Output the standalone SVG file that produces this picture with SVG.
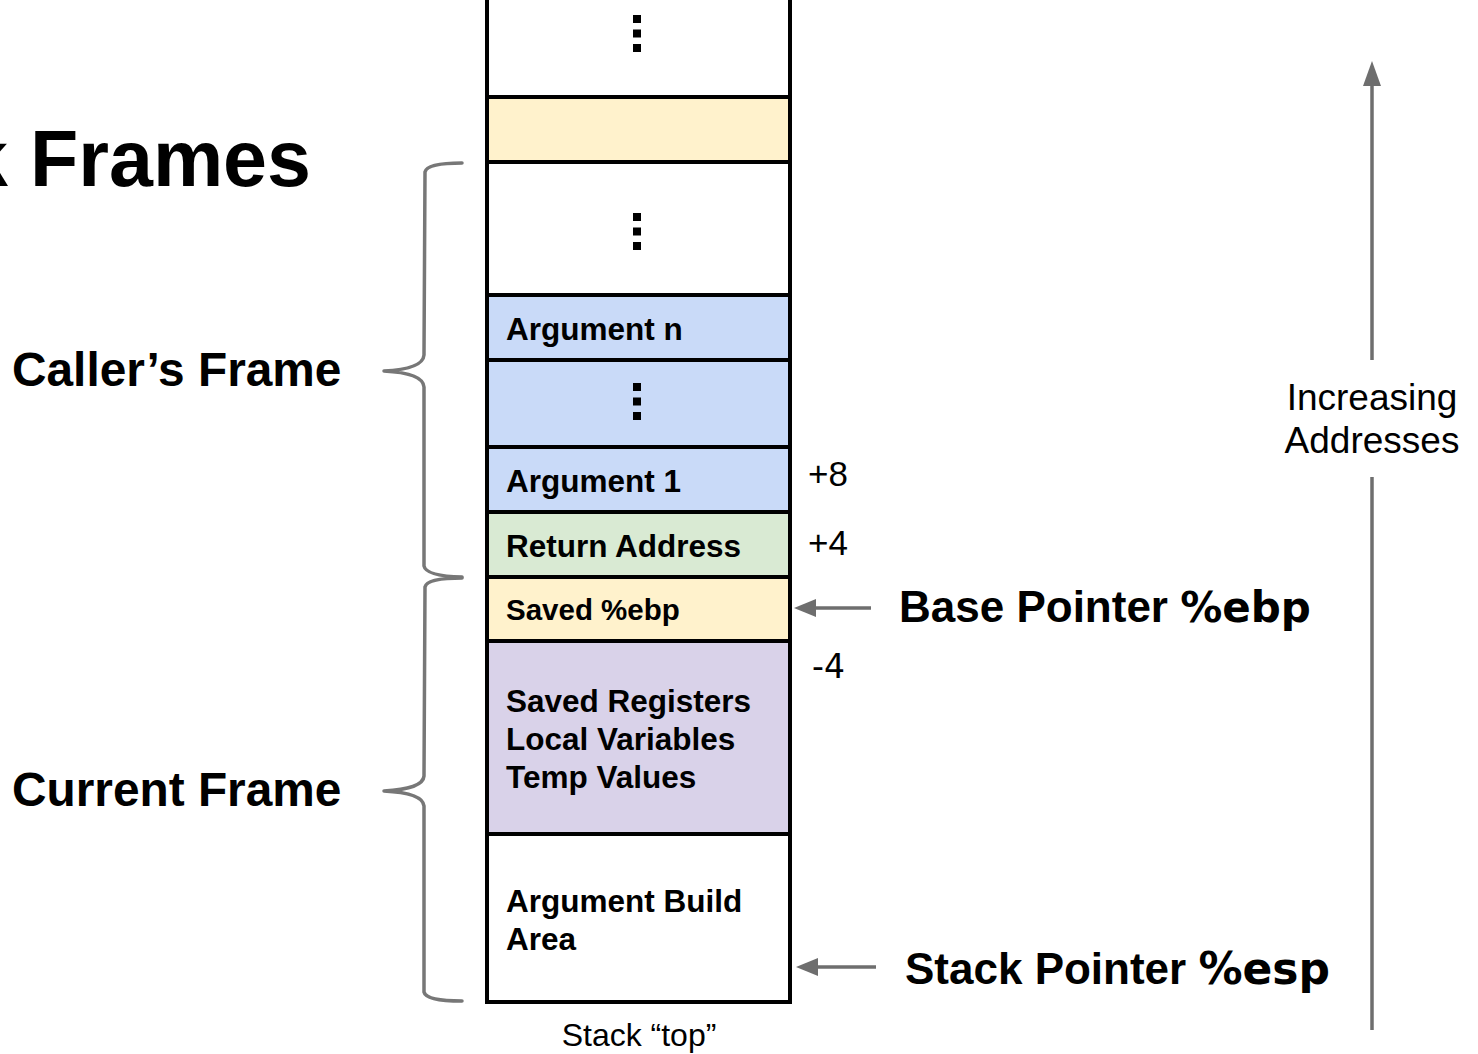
<svg xmlns="http://www.w3.org/2000/svg" width="1478" height="1054" viewBox="0 0 1478 1054">
<style>
.cell{stroke:#000;stroke-width:4}
.lbl{font-family:"Liberation Sans",Arial,sans-serif;font-weight:bold;font-size:31.5px;fill:#000}
.big{font-family:"Liberation Sans",Arial,sans-serif;font-weight:bold;font-size:47.8px;fill:#000}
.ptr{font-family:"Liberation Sans",Arial,sans-serif;font-weight:bold;font-size:44px;fill:#000}
.reg{font-family:"DejaVu Sans",sans-serif;font-weight:bold}
.off{font-family:"Liberation Sans",Arial,sans-serif;font-size:35px;fill:#000}
.note{font-family:"Liberation Sans",Arial,sans-serif;font-size:32px;fill:#000}
.brace{fill:none;stroke:#777;stroke-width:3.5;stroke-linecap:round;stroke-linejoin:round}
.conn{stroke:#6e6e6e;stroke-width:3.5;fill:none}
.dot{fill:#000}
</style>
<defs>
<g id="dots3">
<rect class="dot" x="-4" y="-4" width="8" height="8"/>
<rect class="dot" x="-4" y="10.5" width="8" height="8"/>
<rect class="dot" x="-4" y="25" width="8" height="8"/>
</g>
</defs>
<rect width="1478" height="1054" fill="#fff"/>

<g id="title">
<text x="311" y="186" text-anchor="end" font-family="Liberation Sans, Arial, sans-serif" font-weight="bold" font-size="79">Stack Frames</text>
</g>

<g id="cell-top">
<rect class="cell" x="487" y="-10" width="303" height="107" fill="#fff"/>
<use href="#dots3" x="637" y="19"/>
</g>
<g id="cell-yellow-top">
<rect class="cell" x="487" y="97" width="303" height="65" fill="#fff2cc"/>
</g>
<g id="cell-dots">
<rect class="cell" x="487" y="162" width="303" height="133" fill="#fff"/>
<use href="#dots3" x="637" y="217"/>
</g>
<g id="cell-argn">
<rect class="cell" x="487" y="295" width="303" height="65" fill="#c9daf8"/>
<text class="lbl" x="506" y="340">Argument n</text>
</g>
<g id="cell-argdots">
<rect class="cell" x="487" y="360" width="303" height="87" fill="#c9daf8"/>
<use href="#dots3" x="637" y="387"/>
</g>
<g id="cell-arg1">
<rect class="cell" x="487" y="447" width="303" height="65" fill="#c9daf8"/>
<text class="lbl" x="506" y="492">Argument 1</text>
</g>
<g id="cell-ret">
<rect class="cell" x="487" y="512" width="303" height="65" fill="#d9ead3"/>
<text class="lbl" x="506" y="557">Return Address</text>
</g>
<g id="cell-ebp">
<rect class="cell" x="487" y="577" width="303" height="64" fill="#fff2cc"/>
<text class="lbl" x="506" y="620" style="font-size:29.5px">Saved %ebp</text>
</g>
<g id="cell-locals">
<rect class="cell" x="487" y="641" width="303" height="193" fill="#d9d2e9"/>
<text class="lbl" x="506" y="712">Saved Registers</text>
<text class="lbl" x="506" y="750">Local Variables</text>
<text class="lbl" x="506" y="788">Temp Values</text>
</g>
<g id="cell-argbuild">
<rect class="cell" x="487" y="834" width="303" height="168" fill="#fff"/>
<text class="lbl" x="506" y="912">Argument Build</text>
<text class="lbl" x="506" y="950">Area</text>
</g>

<g id="stack-top-label">
<text class="note" x="639" y="1046" text-anchor="middle">Stack “top”</text>
</g>

<g id="offsets">
<text class="off" x="808" y="486">+8</text>
<text class="off" x="808" y="555">+4</text>
<text x="812" y="678" font-family="DejaVu Sans, sans-serif" font-size="33" fill="#000">-4</text>
</g>

<g id="callers-frame">
<path class="brace" d="M462,163 Q427,163 425,172 L424,355 Q423,369 384,371 Q423,373 424,387 L424,566 Q426,576 462,577"/>
<text class="big" x="12" y="386">Caller’s Frame</text>
</g>
<g id="current-frame">
<path class="brace" d="M462,578 Q427,578 425,587 L424,776 Q423,789 384,791 Q423,793 424,806 L424,992 Q426,1001 462,1001"/>
<text class="big" x="12" y="806">Current Frame</text>
</g>

<g id="base-pointer">
<text class="ptr" x="899" y="622">Base Pointer <tspan class="reg" font-size="42">%ebp</tspan></text>
</g>
<g id="stack-pointer">
<text class="ptr" x="905" y="984">Stack Pointer <tspan class="reg" font-size="44">%esp</tspan></text>
</g>
<g id="increasing">
<text class="note" style="font-size:37px" x="1372" y="410" text-anchor="middle">Increasing</text>
<text class="note" style="font-size:37px" x="1372" y="453" text-anchor="middle">Addresses</text>
</g>

<g id="connectors">
<line class="conn" x1="871" y1="608" x2="816" y2="608"/>
<path d="M794,608 L816,599 L816,617 Z" fill="#6e6e6e"/>
<line class="conn" x1="876" y1="967" x2="818" y2="967"/>
<path d="M796,967 L818,958 L818,976 Z" fill="#6e6e6e"/>
<line class="conn" x1="1372" y1="360" x2="1372" y2="84"/>
<path d="M1372,61 L1381,86 L1363,86 Z" fill="#6e6e6e"/>
<line class="conn" x1="1372" y1="477" x2="1372" y2="1030"/>
</g>
</svg>
